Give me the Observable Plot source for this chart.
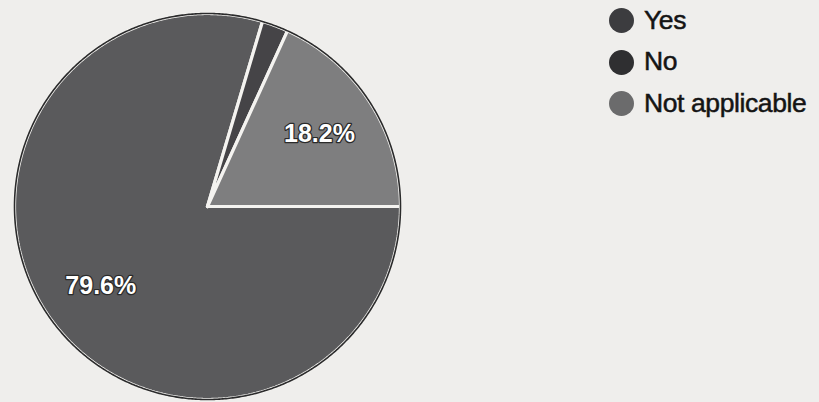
<!DOCTYPE html>
<html>
<head>
<meta charset="utf-8">
<script src="https://cdn.jsdelivr.net/npm/d3@7"></script>
<script src="https://cdn.jsdelivr.net/npm/@observablehq/plot@0.6"></script>
<style>
  html, body { margin: 0; padding: 0; background: #efeeec; }
  #wrap { position: relative; width: 819px; height: 402px; overflow: hidden; }
  #legend { position: absolute; left: 609px; top: 0px; width: 210px; font-family: "Liberation Sans", Arial, sans-serif; font-size: 26.5px; letter-spacing: -0.4px; color: #141414; white-space: nowrap; }
  .row { display: flex; align-items: center; height: 41.5px; white-space: nowrap; }
  .sw { width: 25px; height: 25px; border-radius: 50%; margin-right: 10px; flex: none; }
  .lab { -webkit-text-stroke: 0.5px #141414; line-height: 28px; position: relative; top: -1px; white-space: nowrap; }
</style>
</head>
<body>
<div id="wrap"><div id="chart"></div><div id="legend"></div></div>
<script>
const categories = ["Yes", "No", "Not applicable"];
const values = [79.6, 2.2, 18.2];
const sliceColors = ["#5a5a5c", "#454447", "#7e7e7f"];
const legendColors = ["#3c3c3f", "#2f2f31", "#6b6b6c"];

const data = categories.map((c, i) => ({category: c, value: values[i], color: sliceColors[i]}));

// pie layout starting at 3 o'clock, clockwise
const arcs = d3.pie().sort(null).value(d => d.value)
  .startAngle(Math.PI / 2).endAngle(Math.PI / 2 + 2 * Math.PI)(data);

function slicePoints(a) {
  const pts = [{x: 0, y: 0}];
  const n = Math.max(2, Math.ceil((a.endAngle - a.startAngle) / (Math.PI / 360)));
  for (let k = 0; k <= n; k++) {
    const t = a.startAngle + (a.endAngle - a.startAngle) * k / n;
    pts.push({x: Math.sin(t), y: Math.cos(t)});
  }
  pts.push({x: 0, y: 0});
  return pts;
}

const outline = [];
for (let k = 0; k <= 720; k++) {
  const t = k / 720 * 2 * Math.PI;
  outline.push({x: Math.sin(t), y: Math.cos(t)});
}

const labels = arcs.filter(a => a.data.value > 5).map(a => {
  const m = (a.startAngle + a.endAngle) / 2;
  return {x: 0.69 * Math.sin(m), y: 0.69 * Math.cos(m), text: d3.format(".1f")(a.data.value) + "%"};
});

const cx = 207, cy = 206, r = 193;

const chart = Plot.plot({
  width: 819,
  height: 402,
  margin: 0,
  style: {background: "transparent", overflow: "visible"},
  x: {domain: [-1, 1], range: [cx - r, cx + r], axis: null},
  y: {domain: [-1, 1], range: [cy + r, cy - r], axis: null},
  marks: [
    ...arcs.map(a => Plot.line(slicePoints(a), {
      x: "x", y: "y", fill: a.data.color, stroke: "#f4f3f0", strokeWidth: 3.2, strokeLinejoin: "miter"
    })),
    Plot.line(outline, {x: "x", y: "y", stroke: "#2b2b2c", strokeWidth: 1.6}),
    Plot.text(labels, {
      x: "x", y: "y", text: "text", fill: "white", stroke: "#2a2a2a", strokeWidth: 2.5,
      fontSize: 25, fontFamily: "'Liberation Sans', Arial, sans-serif",
      fontWeight: "bold", textAnchor: "middle"
    })
  ]
});
document.getElementById("chart").appendChild(chart);

const legend = document.getElementById("legend");
categories.forEach((c, i) => {
  const row = document.createElement("div");
  row.className = "row";
  const sw = document.createElement("div");
  sw.className = "sw";
  sw.style.background = legendColors[i];
  const lab = document.createElement("span");
  lab.className = "lab";
  lab.textContent = c;
  row.appendChild(sw);
  row.appendChild(lab);
  legend.appendChild(row);
});
</script>
</body>
</html>
